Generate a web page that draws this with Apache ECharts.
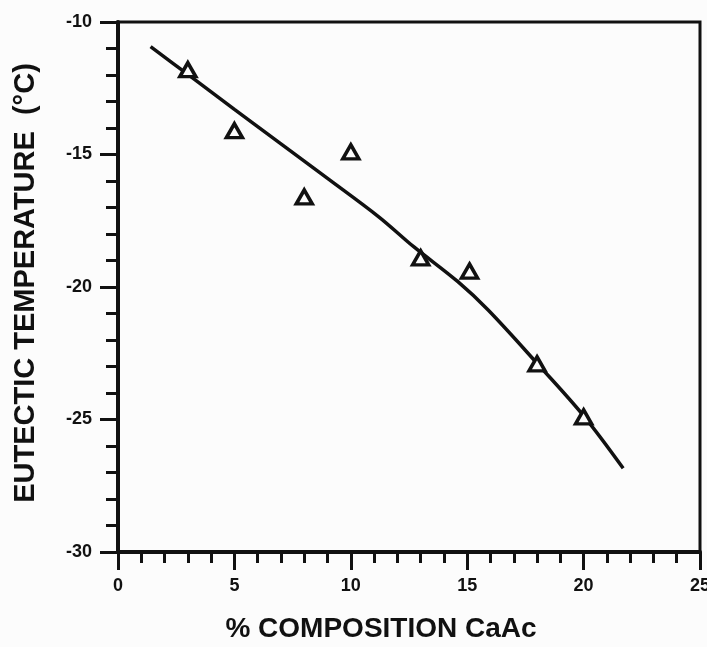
<!DOCTYPE html>
<html>
<head>
<meta charset="utf-8">
<script src="https://cdn.jsdelivr.net/npm/echarts@6/dist/echarts.min.js"></script>
<style>
  html, body { margin: 0; padding: 0; background: #fcfcfc; }
  #chart { width: 707px; height: 647px; }
</style>
</head>
<body>
<div id="chart"></div>
<script>
// measured points (triangles)
var compX = [3, 5, 8, 10, 13, 15.1, 18, 20];
var tempY = [-11.8, -14.1, -16.6, -14.9, -18.9, -19.4, -22.9, -24.9];

// drawn curve through the data
var fitX = [1.4, 3, 5, 7, 9, 11.2, 12.7, 14.6, 15.9, 18, 20, 21.7];
var fitY = [-10.93, -11.98, -13.3, -14.6, -15.9, -17.35, -18.48, -19.8, -20.87, -22.88, -24.86, -26.84];

var xTicks = [0, 5, 10, 15, 20, 25];
var yTicks = [-30, -25, -20, -15, -10];

var ink = '#111';

var dom = document.getElementById('chart');
var myChart = echarts.init(dom);

var option = {
    backgroundColor: '#fcfcfc',
    animation: false,
    grid: {
        left: 118,
        right: 7,
        top: 22,
        bottom: 95,
        outerBoundsMode: 'none',
        containLabel: false,
        show: true,
        borderColor: ink,
        borderWidth: 3,
        backgroundColor: 'transparent'
    },
    xAxis: {
        type: 'value',
        min: xTicks[0],
        max: xTicks[xTicks.length - 1],
        interval: 5,
        name: '% COMPOSITION CaAc',
        nameLocation: 'middle',
        nameGap: 63,
        nameTextStyle: {
            color: ink,
            fontFamily: 'Liberation Sans',
            fontWeight: 'bold',
            fontSize: 28,
            padding: [0, 56, 0, 0]
        },
        axisLine: { show: true, lineStyle: { color: ink, width: 4 } },
        axisTick: { show: true, inside: false, length: 18, lineStyle: { color: ink, width: 3 } },
        minorTick: { show: true, splitNumber: 5, length: 11, lineStyle: { color: ink, width: 3 } },
        splitLine: { show: false },
        axisLabel: {
            margin: 25,
            color: ink,
            fontFamily: 'Liberation Sans',
            fontWeight: 'bold',
            fontSize: 18
        }
    },
    yAxis: {
        type: 'value',
        min: yTicks[0],
        max: yTicks[yTicks.length - 1],
        interval: 5,
        name: 'EUTECTIC TEMPERATURE  (°C)',
        nameLocation: 'middle',
        nameRotate: 90,
        nameGap: 78,
        nameTextStyle: {
            color: ink,
            fontFamily: 'Liberation Sans',
            fontWeight: 'bold',
            fontSize: 29,
            padding: [0, 0, 0, 8]
        },
        axisLine: { show: true, lineStyle: { color: ink, width: 4 } },
        axisTick: { show: true, inside: false, length: 18, lineStyle: { color: ink, width: 3 } },
        minorTick: { show: true, splitNumber: 5, length: 12, lineStyle: { color: ink, width: 3 } },
        splitLine: { show: false },
        axisLabel: {
            margin: 26,
            color: ink,
            fontFamily: 'Liberation Sans',
            fontWeight: 'bold',
            fontSize: 18
        }
    },
    series: [
        {
            name: 'fit',
            type: 'line',
            data: fitX.map(function (x, i) { return [x, fitY[i]]; }),
            showSymbol: false,
            smooth: 0.35,
            lineStyle: { color: ink, width: 3.5 },
            z: 2
        },
        {
            name: 'eutectic',
            type: 'scatter',
            data: compX.map(function (x, i) { return [x, tempY[i]]; }),
            symbol: 'triangle',
            symbolSize: [16, 14],
            itemStyle: { color: '#fcfcfc', borderColor: ink, borderWidth: 3.5, opacity: 1 },
            z: 3
        }
    ]
};

if (option && typeof option === 'object') {
    myChart.setOption(option);
}
</script>
</body>
</html>
